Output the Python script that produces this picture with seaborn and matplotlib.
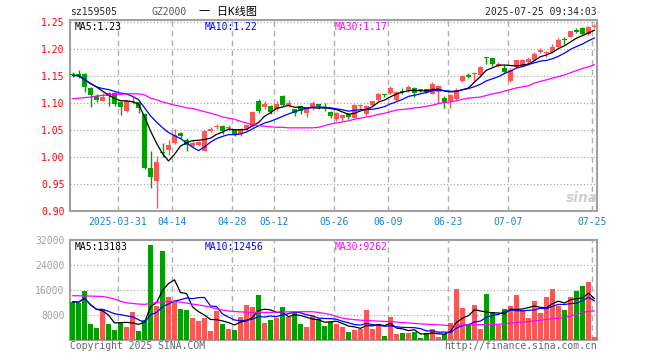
import matplotlib
matplotlib.use("Agg")
import matplotlib.pyplot as plt
import numpy as np
import pandas as pd
import seaborn as sns

# trading days shown (exchange holidays removed)
holidays = ["2025-04-04", "2025-05-01", "2025-05-02", "2025-05-05", "2025-06-02"]
dates = pd.bdate_range("2025-03-19", "2025-07-25")
dates = dates[~dates.isin(pd.to_datetime(holidays))]

tick_dates = ["2025-03-31", "2025-04-14", "2025-04-28", "2025-05-12", "2025-05-26",
              "2025-06-09", "2025-06-23", "2025-07-07", "2025-07-25"]
tick_labels = ["2025-03-31", "04-14", "04-28", "05-12", "05-26",
               "06-09", "06-23", "07-07", "07-25"]
price_ticks = [0.90, 0.95, 1.00, 1.05, 1.10, 1.15, 1.20, 1.25]
vol_ticks = [8000, 16000, 24000, 32000]

opens = [1.154, 1.154, 1.154, 1.128, 1.113, 1.104, 1.119, 1.119, 1.101, 1.086,
         1.101, 1.101, 1.080, 0.980, 0.956, 1.009, 1.013, 1.025, 1.044, 1.032,
         1.021, 1.023, 1.012, 1.049, 1.055, 1.057, 1.053, 1.050, 1.042, 1.052,
         1.057, 1.104, 1.093, 1.094, 1.088, 1.113, 1.096, 1.088, 1.094, 1.081,
         1.090, 1.098, 1.090, 1.084, 1.070, 1.072, 1.080, 1.073, 1.094, 1.080,
         1.096, 1.106, 1.117, 1.118, 1.106, 1.123, 1.124, 1.127, 1.125, 1.125,
         1.117, 1.121, 1.110, 1.104, 1.107, 1.140, 1.152, 1.154, 1.152, 1.184,
         1.183, 1.169, 1.165, 1.140, 1.166, 1.167, 1.176, 1.180, 1.195, 1.192,
         1.195, 1.204, 1.219, 1.223, 1.235, 1.238, 1.227, 1.241]
highs = [1.158, 1.161, 1.155, 1.129, 1.116, 1.118, 1.121, 1.121, 1.103, 1.106,
         1.112, 1.104, 1.081, 1.011, 1.001, 1.026, 1.031, 1.051, 1.046, 1.036,
         1.029, 1.030, 1.050, 1.055, 1.061, 1.059, 1.059, 1.051, 1.053, 1.061,
         1.085, 1.108, 1.103, 1.096, 1.103, 1.115, 1.105, 1.089, 1.097, 1.091,
         1.103, 1.098, 1.100, 1.086, 1.083, 1.080, 1.082, 1.099, 1.099, 1.097,
         1.104, 1.119, 1.117, 1.132, 1.123, 1.128, 1.134, 1.130, 1.126, 1.126,
         1.138, 1.133, 1.113, 1.117, 1.127, 1.151, 1.155, 1.158, 1.169, 1.185,
         1.184, 1.175, 1.170, 1.164, 1.181, 1.181, 1.186, 1.194, 1.202, 1.197,
         1.209, 1.220, 1.222, 1.234, 1.238, 1.240, 1.243, 1.246]
lows = [1.148, 1.146, 1.121, 1.092, 1.102, 1.103, 1.094, 1.095, 1.077, 1.083,
        1.099, 1.081, 0.978, 0.942, 0.905, 1.000, 1.004, 1.024, 1.036, 1.012,
        1.019, 1.020, 1.011, 1.047, 1.051, 1.043, 1.048, 1.039, 1.038, 1.050,
        1.056, 1.082, 1.089, 1.079, 1.085, 1.094, 1.093, 1.076, 1.080, 1.074,
        1.087, 1.088, 1.085, 1.073, 1.067, 1.067, 1.071, 1.072, 1.087, 1.078,
        1.095, 1.104, 1.112, 1.116, 1.104, 1.117, 1.120, 1.111, 1.121, 1.119,
        1.116, 1.100, 1.090, 1.090, 1.105, 1.138, 1.147, 1.140, 1.150, 1.172,
        1.168, 1.166, 1.156, 1.138, 1.164, 1.166, 1.170, 1.178, 1.192, 1.185,
        1.193, 1.203, 1.210, 1.222, 1.229, 1.225, 1.226, 1.239]
closes = [1.151, 1.150, 1.129, 1.114, 1.105, 1.112, 1.113, 1.098, 1.093, 1.104,
          1.104, 1.091, 0.979, 0.963, 0.991, 1.007, 1.023, 1.041, 1.039, 1.022,
          1.026, 1.027, 1.048, 1.051, 1.057, 1.048, 1.055, 1.041, 1.051, 1.059,
          1.083, 1.085, 1.099, 1.084, 1.099, 1.096, 1.100, 1.081, 1.086, 1.090,
          1.100, 1.095, 1.088, 1.075, 1.081, 1.078, 1.074, 1.097, 1.097, 1.095,
          1.103, 1.117, 1.115, 1.127, 1.121, 1.121, 1.130, 1.118, 1.123, 1.120,
          1.135, 1.131, 1.102, 1.115, 1.124, 1.150, 1.148, 1.156, 1.167, 1.183,
          1.172, 1.172, 1.158, 1.162, 1.179, 1.180, 1.182, 1.190, 1.198, 1.195,
          1.204, 1.217, 1.216, 1.233, 1.231, 1.227, 1.241, 1.243]
ma30 = [1.108, 1.109, 1.110, 1.111, 1.113, 1.114, 1.115, 1.116, 1.116, 1.117,
        1.117, 1.117, 1.115, 1.109, 1.106, 1.102, 1.099, 1.096, 1.094, 1.091,
        1.090, 1.087, 1.084, 1.081, 1.078, 1.074, 1.072, 1.070, 1.066, 1.063,
        1.060, 1.058, 1.057, 1.056, 1.055, 1.055, 1.054, 1.054, 1.054, 1.054,
        1.054, 1.055, 1.058, 1.061, 1.063, 1.065, 1.067, 1.070, 1.072, 1.074,
        1.076, 1.079, 1.081, 1.084, 1.087, 1.088, 1.089, 1.091, 1.092, 1.094,
        1.096, 1.099, 1.101, 1.102, 1.104, 1.107, 1.109, 1.110, 1.111, 1.114,
        1.117, 1.119, 1.122, 1.125, 1.128, 1.130, 1.132, 1.137, 1.140, 1.143,
        1.146, 1.149, 1.152, 1.156, 1.160, 1.164, 1.167, 1.171]
volume = [12270, 11950, 15780, 5120, 3950, 9920, 5120, 3200, 5650, 4270,
          9070, 2880, 6400, 30400, 11000, 28580, 13870, 12480, 9920, 9600,
          7150, 6190, 7040, 2880, 9280, 5120, 3630, 3200, 7470, 11200,
          10670, 14400, 5550, 6400, 7150, 10670, 7470, 8850, 5120, 4270,
          7680, 6720, 4590, 5870, 5120, 4160, 2560, 3310, 3520, 9600,
          3520, 5010, 1280, 7360, 1920, 2240, 2240, 2560, 640, 2240,
          3520, 960, 1920, 5440, 16320, 10240, 5120, 11200, 3520, 14720,
          8960, 4800, 9920, 10880, 14400, 9600, 7040, 12480, 8640, 13760,
          16320, 10880, 9600, 13760, 15680, 17280, 18560, 960]
vol_ma30 = [14180, 14150, 14100, 14050, 14000, 13900, 13600, 13100, 12400, 11900,
            11700, 11500, 11400, 11700, 12000, 12200, 12300, 12400, 12100, 11800,
            11500, 11200, 10900, 10500, 10000, 9600, 9300, 9100, 9000, 8900,
            8850, 8850, 8850, 8850, 8900, 8950, 9000, 9050, 9050, 9050,
            9050, 8800, 8500, 8200, 7500, 7000, 6700, 6500, 6350, 6250,
            6150, 6050, 5950, 5850, 5750, 5600, 5450, 5300, 5150, 5050,
            4950, 4850, 4700, 4600, 4650, 4750, 4800, 4850, 4900, 4950,
            5000, 5050, 5200, 5400, 5550, 5700, 5900, 6100, 6300, 6600,
            6800, 7000, 7200, 7600, 8200, 8800, 9200, 9262]

RED = "#ff5555"
GREEN = "#00a000"
W, H = 660, 360

df = pd.DataFrame({"date": dates, "open": opens, "high": highs, "low": lows,
                   "close": closes, "ma30": ma30, "volume": volume, "vol_ma30": vol_ma30})
df["i"] = np.arange(len(df))
df["dir"] = np.where(df["close"] >= df["open"], "up", "down")
df["ma5"] = df["close"].rolling(5, min_periods=1).mean()
df["ma10"] = df["close"].rolling(10, min_periods=1).mean()
df["vol_ma5"] = df["volume"].rolling(5, min_periods=1).mean()
df["vol_ma10"] = df["volume"].rolling(10, min_periods=1).mean()

date_pos = {d: k for k, d in enumerate(df["date"].dt.strftime("%Y-%m-%d"))}
grid_x = np.array([date_pos[d] for d in tick_dates]) - 0.42

sns.set_style("white")
mono = ["DejaVu Sans Mono", "Noto Sans CJK SC"]
plt.rcParams["font.family"] = mono

fig = plt.figure(figsize=(W / 100, H / 100), dpi=100)
ax = fig.add_axes([70 / W, 1 - 211 / H, 527 / W, 191 / H])
axv = fig.add_axes([70 / W, 1 - 340 / H, 527 / W, 100 / H])

# candlesticks
colors = np.where(df["dir"] == "up", RED, GREEN)
body_lo = np.minimum(df["open"], df["close"])
body_h = np.maximum((df["close"] - df["open"]).abs(), 0.0018)
ax.vlines(df["i"], df["low"], df["high"], colors=colors, lw=1, zorder=3)
ax.bar(df["i"], body_h, bottom=body_lo, width=0.82, color=colors, linewidth=0, zorder=3)

sns.lineplot(data=df, x="i", y="ma5", color="black", lw=0.9, ax=ax, zorder=4)
sns.lineplot(data=df, x="i", y="ma10", color="#0000ff", lw=0.9, ax=ax, zorder=4)
sns.lineplot(data=df, x="i", y="ma30", color="#ff00ff", lw=0.9, ax=ax, zorder=4)

# volume (categorical positions 0..n-1 line up with the candles)
sns.barplot(data=df, x="i", y="volume", hue="dir", palette={"up": RED, "down": GREEN},
            order=list(df["i"]), dodge=False, width=0.82, legend=False, saturation=1,
            errorbar=None, linewidth=0, ax=axv, zorder=3)
sns.lineplot(data=df, x="i", y="vol_ma5", color="black", lw=0.9, ax=axv, zorder=4)
sns.lineplot(data=df, x="i", y="vol_ma10", color="#0000ff", lw=0.9, ax=axv, zorder=4)
sns.lineplot(data=df, x="i", y="vol_ma30", color="#ff00ff", lw=0.9, ax=axv, zorder=4)

for a, ylim, yt in [(ax, (0.90, 1.2537), price_ticks), (axv, (0, 32000), vol_ticks)]:
    a.set_xlim(-0.42, 87.42)
    a.set_ylim(*ylim)
    for gx in grid_x:
        a.axvline(gx, color="#b0b0b0", ls=(0, (4, 3)), lw=1, zorder=1)
    for gy in yt:
        if ylim[0] < gy < ylim[1] - 1e-3 * ylim[1]:
            a.axhline(gy, color="#a0a0a0", ls=(0, (1, 2)), lw=0.8, zorder=1)
    for s in a.spines.values():
        s.set_color("#a0a0a0")
        s.set_linewidth(1.5)
    a.set_xlabel("")
    a.set_ylabel("")
    a.tick_params(length=0, labelsize=7, pad=4)

ax.set_yticks(price_ticks)
ax.set_yticklabels([f"{v:.2f}" for v in price_ticks], color="#ff0000")
ax.set_xticks(grid_x)
ax.set_xticklabels(tick_labels, color="#1a7fd8")
axv.set_yticks(vol_ticks)
axv.set_yticklabels([str(v) for v in vol_ticks], color="#a0a0a0")
axv.set_xticks([])


def ptext(x, y, s, size=7, **kw):
    fig.text(x / W, 1 - y / H, s, va="center", fontsize=size, family=mono, **kw)


ptext(70, 12, "sz159505")
ptext(151, 12, "GZ2000", color="#555555")
ptext(199, 12, "一 日K线图", size=8, color="black")
ptext(597, 12, "2025-07-25 09:34:03", ha="right")
ptext(75, 27, "MA5:1.23", color="black")
ptext(205, 27, "MA10:1.22", color="#0000ff")
ptext(335, 27, "MA30:1.17", color="#ff00ff")
ptext(75, 247, "MA5:13183", color="black")
ptext(205, 247, "MA10:12456", color="#0000ff")
ptext(335, 247, "MA30:9262", color="#ff00ff")
ptext(70, 346, "Copyright 2025 SINA.COM", color="#666666")
ptext(597, 346, "http://finance.sina.com.cn", ha="right", color="#666666")
fig.text(582 / W, 1 - 198 / H, "sina", fontsize=10, style="italic", weight="bold",
         color="#d0d0d0", ha="center", va="center", family="DejaVu Sans")

fig.savefig("out.png", dpi=100)
plt.close(fig)
